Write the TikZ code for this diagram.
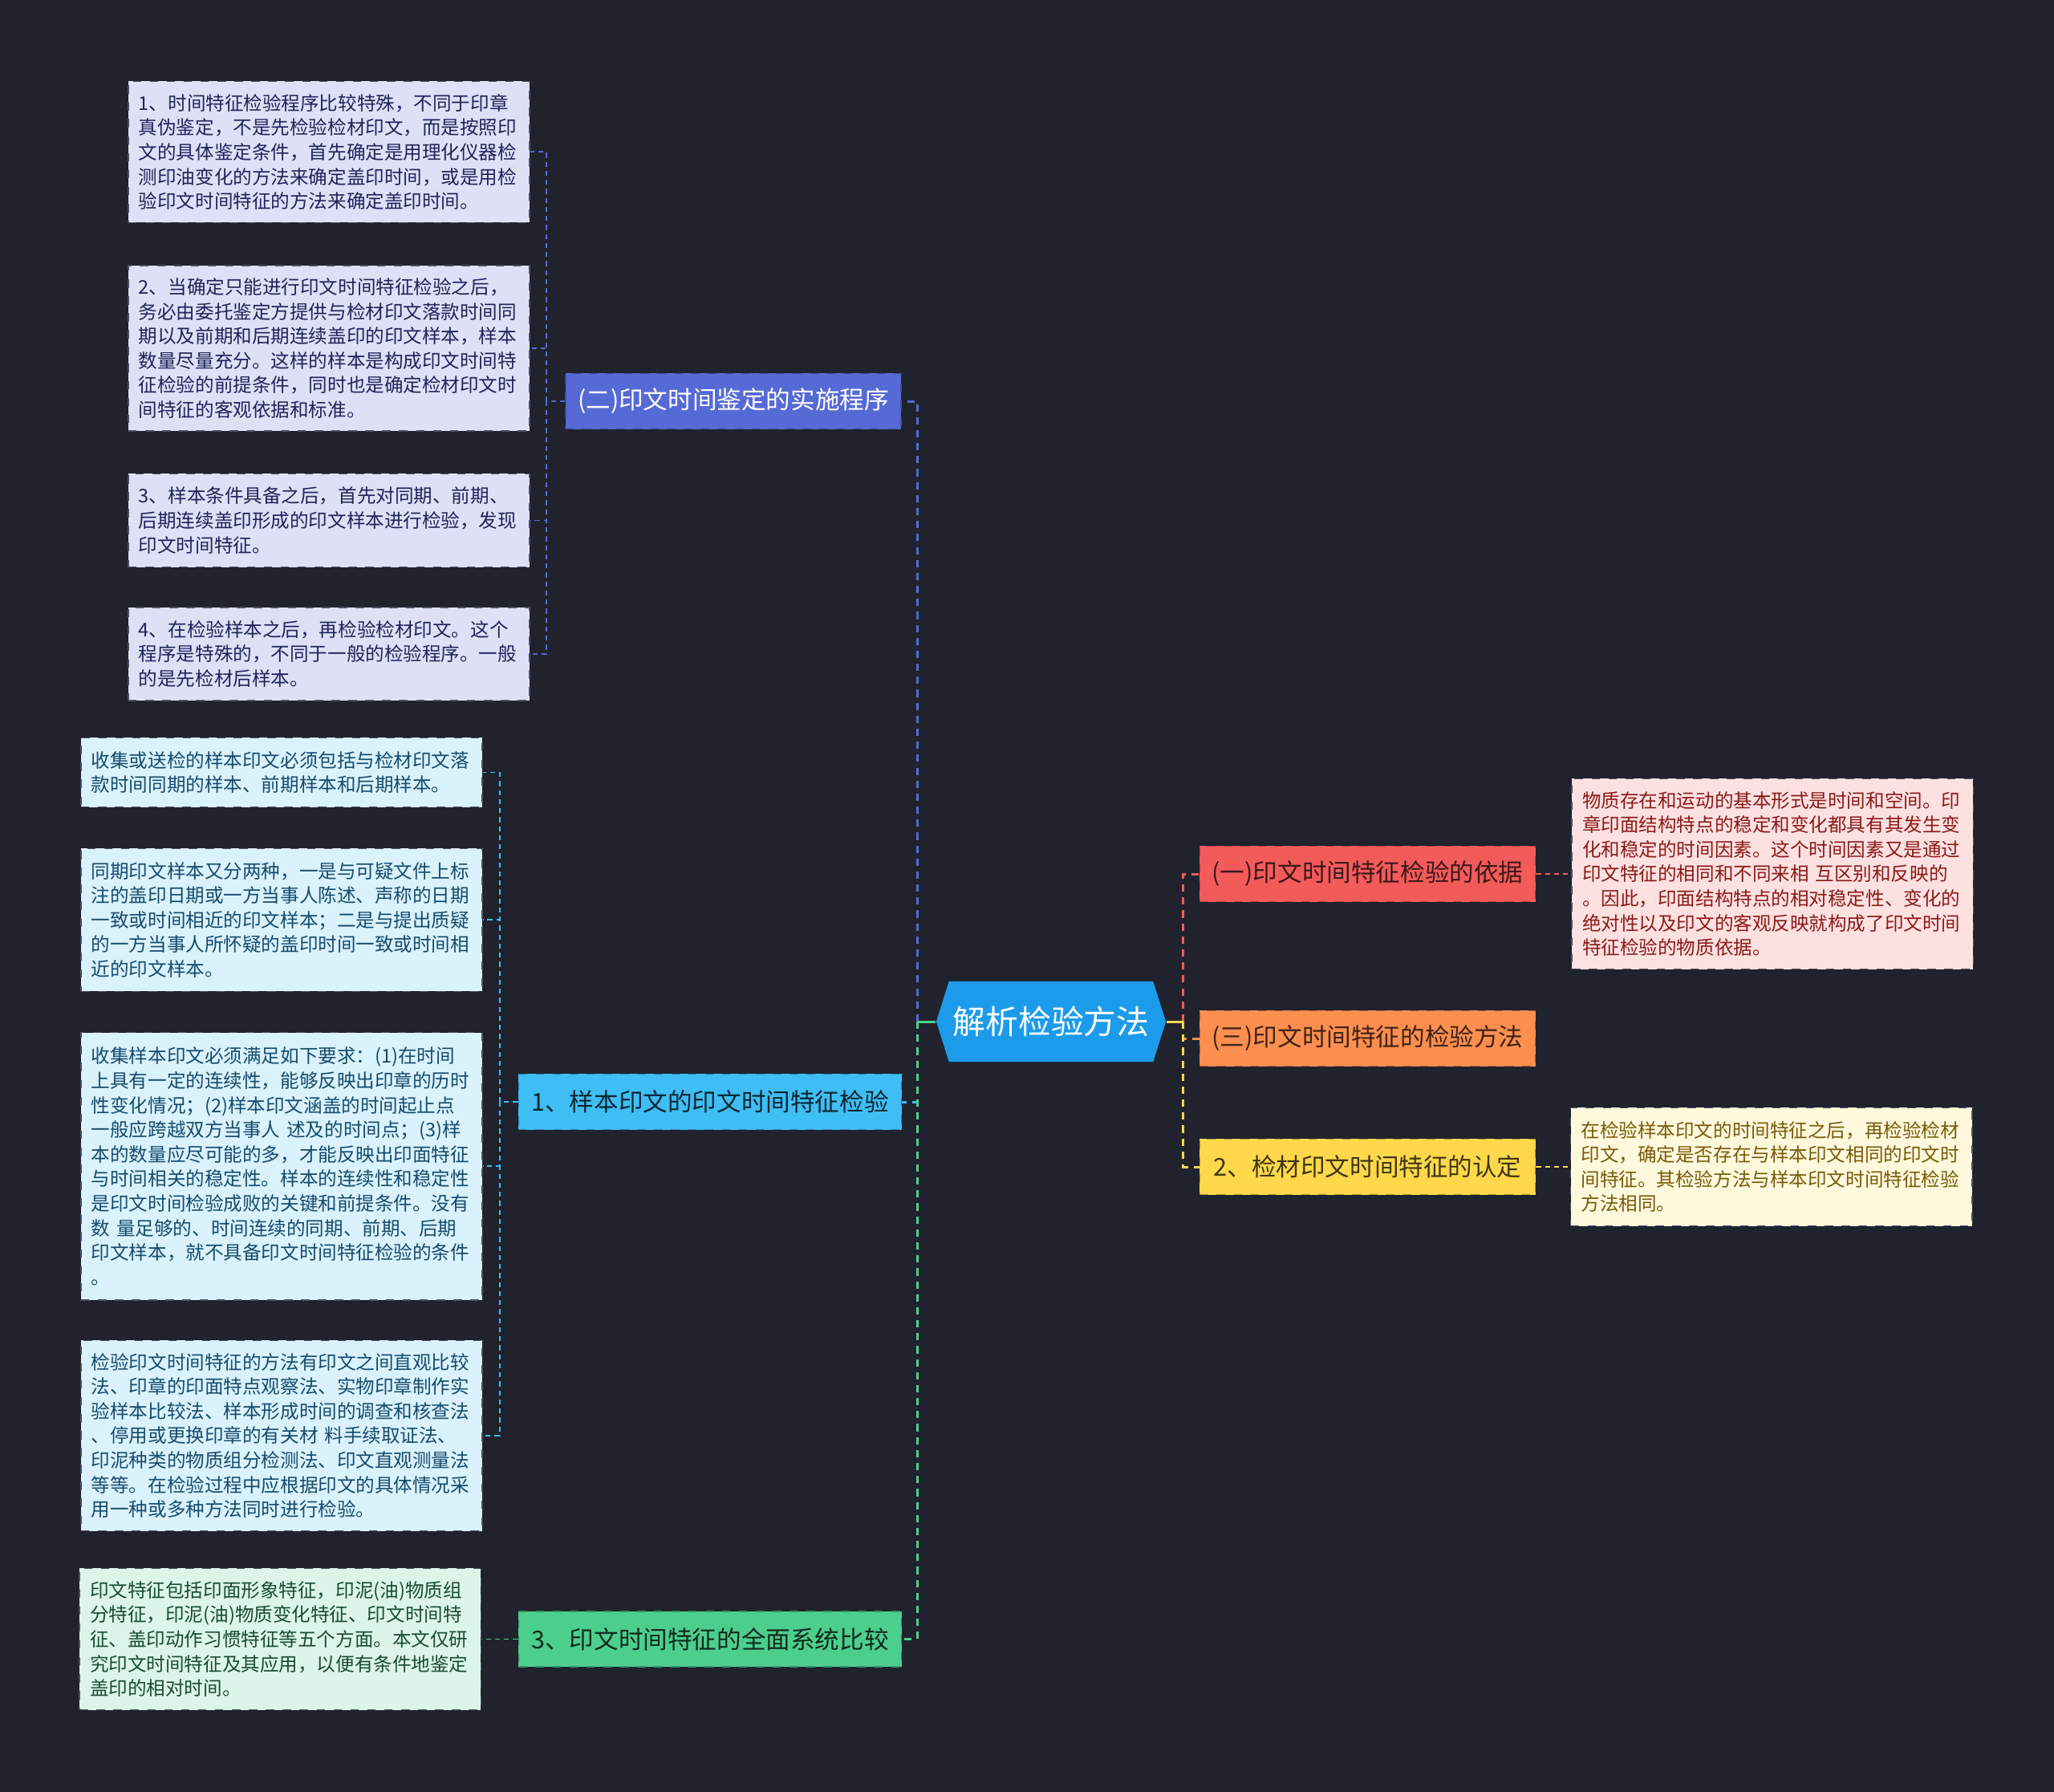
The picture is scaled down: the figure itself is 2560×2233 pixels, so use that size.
\documentclass[tikz,border=0pt]{standalone}
\usepackage{fontspec}
\setmainfont{Noto Sans CJK SC}
\usetikzlibrary{positioning, shapes.symbols}

\definecolor{bgdark}{RGB}{32,35,46}
\definecolor{rootblue}{RGB}{28,155,234}
\definecolor{indigo}{RGB}{86,106,214}
\definecolor{skyblue}{RGB}{62,190,245}
\definecolor{mint}{RGB}{76,207,140}
\definecolor{coral}{RGB}{243,91,91}
\definecolor{tangerine}{RGB}{252,142,80}
\definecolor{sun}{RGB}{254,216,74}
\definecolor{lavfill}{RGB}{222,225,246}
\definecolor{lavtext}{RGB}{30,36,90}
\definecolor{skyfill}{RGB}{218,242,252}
\definecolor{skytext}{RGB}{22,75,110}
\definecolor{mintfill}{RGB}{220,245,232}
\definecolor{minttext}{RGB}{25,75,50}
\definecolor{pinkfill}{RGB}{253,225,225}
\definecolor{pinktext}{RGB}{140,25,25}
\definecolor{creamfill}{RGB}{254,248,220}
\definecolor{creamtext}{RGB}{120,90,10}
\definecolor{leafedge}{RGB}{75,80,100}

\tikzset{
  link/.style={line width=0.55pt, dash pattern=on 1.8pt off 1.4pt},
  mainlink/.style={line width=0.85pt, dash pattern=on 2.6pt off 2pt},
  stub/.style={line width=0.85pt},
  elbowL/.style={to path={(\tikztostart) -- ++(-23,0) |- (\tikztotarget)}},
  elbowR/.style={to path={(\tikztostart) -- ++(21,0) |- (\tikztotarget)}},
  trunk/.style={to path={(\tikztostart) |- (\tikztotarget)}},
}

\begin{document}
\begin{tikzpicture}[x=0.01cm, y=-0.01cm,
    branch/.style = {draw, dashed, line width=0.4pt, minimum width=4.18cm,
      minimum height=0.69cm, inner sep=0pt,
      font=\fontsize{8.7pt}{10pt}\selectfont},
    leaf/.style = {draw=leafedge, dashed, line width=0.4pt, text width=4.74cm,
      inner xsep=0.13cm, inner ysep=0pt, align=left,
      font=\fontsize{6.7pt}{8.7pt}\selectfont}]

      \fill[bgdark] (0,0) rectangle (2560,2233);

      % --- Nodes ---
      \node[signal, signal to=east and west, signal pointer angle=145,
        fill=rootblue, minimum width=2.86cm, minimum height=1cm, inner sep=0pt,
        text=white, font=\fontsize{11.6pt}{14pt}\selectfont] (root) at (1310,1273) {解析检验方法};
      \coordinate (lhub) at ([xshift=-0.23cm]root.west);
      \coordinate (rhub) at ([xshift=0.21cm]root.east);

      \node[branch, fill=indigo, draw=indigo!75!black, text=white] (proc) at (914,500) {(二)印文时间鉴定的实施程序};
      \node[branch, fill=skyblue, draw=skyblue!70!black, text=black!80!skyblue, minimum width=4.77cm] (sample) at (885,1373) {1、样本印文的印文时间特征检验};
      \node[branch, fill=mint, draw=mint!70!black, text=black!80!mint, minimum width=4.77cm] (compare) at (885,2042.5) {3、印文时间特征的全面系统比较};
      \node[branch, fill=coral, draw=coral!70!black, text=black!75!coral] (basis) at (1704.5,1089) {(一)印文时间特征检验的依据};
      \node[branch, fill=tangerine, draw=tangerine!70!black, text=black!75!tangerine] (method) at (1704.5,1294) {(三)印文时间特征的检验方法};
      \node[branch, fill=sun, draw=sun!70!black, text=black!75!sun] (ident) at (1704.5,1454) {2、检材印文时间特征的认定};

      % procedure steps
      \node[leaf, fill=lavfill, text=lavtext, minimum height=1.76cm] (proc1) at (410,189.4) {1、时间特征检验程序比较特殊，不同于印章\\真伪鉴定，不是先检验检材印文，而是按照印\\文的具体鉴定条件，首先确定是用理化仪器检\\测印油变化的方法来确定盖印时间，或是用检\\验印文时间特征的方法来确定盖印时间。};
      \node[leaf, fill=lavfill, text=lavtext, minimum height=2.06cm, below=0.52cm of proc1] (proc2) {2、当确定只能进行印文时间特征检验之后，\\务必由委托鉴定方提供与检材印文落款时间同\\期以及前期和后期连续盖印的印文样本，样本\\数量尽量充分。这样的样本是构成印文时间特\\征检验的前提条件，同时也是确定检材印文时\\间特征的客观依据和标准。};
      \node[leaf, fill=lavfill, text=lavtext, minimum height=1.16cm, below=0.52cm of proc2] (proc3) {3、样本条件具备之后，首先对同期、前期、\\后期连续盖印形成的印文样本进行检验，发现\\印文时间特征。};
      \node[leaf, fill=lavfill, text=lavtext, minimum height=1.16cm, below=0.49cm of proc3] (proc4) {4、在检验样本之后，再检验检材印文。这个\\程序是特殊的，不同于一般的检验程序。一般\\的是先检材后样本。};

      % sample checks
      \node[leaf, fill=skyfill, text=skytext, minimum height=0.865cm] (samp1) at (351,962.5) {收集或送检的样本印文必须包括与检材印文落\\款时间同期的样本、前期样本和后期样本。};
      \node[leaf, fill=skyfill, text=skytext, minimum height=1.78cm, below=0.5cm of samp1] (samp2) {同期印文样本又分两种，一是与可疑文件上标\\注的盖印日期或一方当事人陈述、声称的日期\\一致或时间相近的印文样本；二是与提出质疑\\的一方当事人所怀疑的盖印时间一致或时间相\\近的印文样本。};
      \node[leaf, fill=skyfill, text=skytext, minimum height=3.33cm, below=0.5cm of samp2] (samp3) {收集样本印文必须满足如下要求：(1)在时间\\上具有一定的连续性，能够反映出印章的历时\\性变化情况；(2)样本印文涵盖的时间起止点\\一般应跨越双方当事人~述及的时间点；(3)样\\本的数量应尽可能的多，才能反映出印面特征\\与时间相关的稳定性。样本的连续性和稳定性\\是印文时间检验成败的关键和前提条件。没有\\数~量足够的、时间连续的同期、前期、后期\\印文样本，就不具备印文时间特征检验的条件\\。};
      \node[leaf, fill=skyfill, text=skytext, minimum height=2.37cm, below=0.49cm of samp3] (samp4) {检验印文时间特征的方法有印文之间直观比较\\法、印章的印面特点观察法、实物印章制作实\\验样本比较法、样本形成时间的调查和核查法\\、停用或更换印章的有关材~料手续取证法、\\印泥种类的物质组分检测法、印文直观测量法\\等等。在检验过程中应根据印文的具体情况采\\用一种或多种方法同时进行检验。};

      \node[leaf, fill=mintfill, text=minttext, minimum height=1.76cm, left=0.455cm of compare] (comp1) {印文特征包括印面形象特征，印泥(油)物质组\\分特征，印泥(油)物质变化特征、印文时间特\\征、盖印动作习惯特征等五个方面。本文仅研\\究印文时间特征及其应用，以便有条件地鉴定\\盖印的相对时间。};

      \node[leaf, fill=pinkfill, text=pinktext, minimum height=2.37cm, right=0.44cm of basis] (basis1) {物质存在和运动的基本形式是时间和空间。印\\章印面结构特点的稳定和变化都具有其发生变\\化和稳定的时间因素。这个时间因素又是通过\\印文特征的相同和不同来相~互区别和反映的\\。因此，印面结构特点的相对稳定性、变化的\\绝对性以及印文的客观反映就构成了印文时间\\特征检验的物质依据。};
      \node[leaf, fill=creamfill, text=creamtext, minimum height=1.47cm, right=0.425cm of ident] (ident1) {在检验样本印文的时间特征之后，再检验检材\\印文，确定是否存在与样本印文相同的印文时\\间特征。其检验方法与样本印文时间特征检验\\方法相同。};

      % --- Edges ---
      \path
      (proc.west) edge[elbowL, link, indigo] (proc1.east)
      (proc.west) edge[elbowL, link, indigo] (proc2.east)
      (proc.west) edge[elbowL, link, indigo] (proc3.east)
      (proc.west) edge[elbowL, link, indigo] (proc4.east)

      (sample.west) edge[elbowL, link, skyblue] (samp1.east)
      (sample.west) edge[elbowL, link, skyblue] (samp2.east)
      (sample.west) edge[elbowL, link, skyblue] (samp3.east)
      (sample.west) edge[elbowL, link, skyblue] (samp4.east)

      (compare.west) edge[link, mint] (comp1.east)
      (basis.east) edge[link, coral] (basis1.west)
      (ident.east) edge[link, sun] (ident1.west)

      (lhub) edge[trunk, mainlink, indigo] (proc.east)
      (lhub) edge[trunk, mainlink, skyblue] (sample.east)
      (lhub) edge[trunk, mainlink, mint] (compare.east)
      (root.west) edge[stub, mint] (lhub) % solid stub at the root

      (rhub) edge[trunk, mainlink, coral] (basis.west)
      (rhub) edge[trunk, mainlink, tangerine] (method.west)
      (rhub) edge[trunk, mainlink, sun] (ident.west)
      (root.east) edge[stub, sun] (rhub);

    \end{tikzpicture}
\end{document}
